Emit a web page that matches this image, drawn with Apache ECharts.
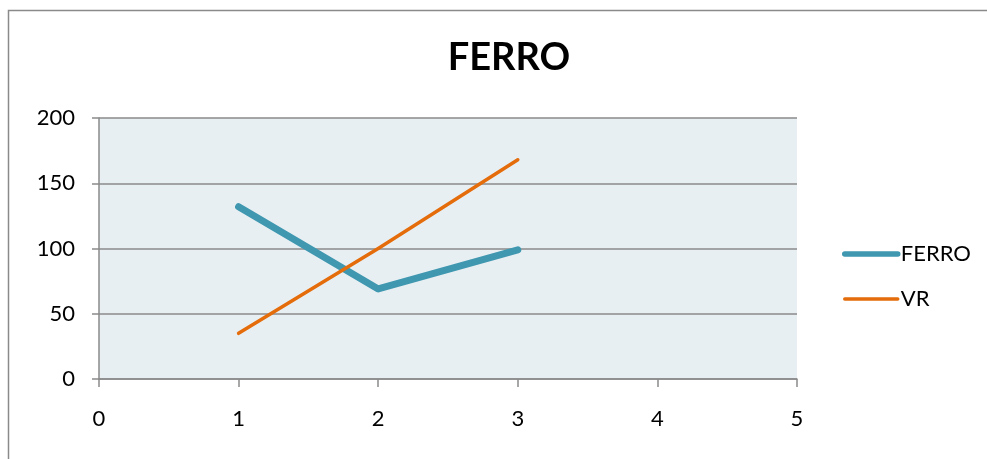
<!DOCTYPE html>
<html>
<head>
<meta charset="utf-8">
<script src="https://cdn.jsdelivr.net/npm/echarts@6/dist/echarts.min.js"></script>
<style>
  html, body { margin: 0; padding: 0; background: #ffffff; }
  #chart { width: 987px; height: 459px; }
</style>
</head>
<body>
<div id="chart"></div>
<script>
// Sample positions on the horizontal axis
const xPositions = [1, 2, 3];
// Series values
const ferroValues = [132, 69, 99];
const vrValues = [35, 100, 168];
// Axis ranges and tick labels
const xTicks = [0, 1, 2, 3, 4, 5];
const yTicks = [0, 50, 100, 150, 200];
const titleText = 'FERRO';
const seriesNames = ['FERRO', 'VR'];

const fontFamily = 'Lato, "Liberation Sans", sans-serif';
const axisGrey = '#8a8a8a';
const ferroColor = '#3f97b0';
const vrColor = '#e46c0a';

const toPairs = (xs, ys) => xs.map((x, i) => [x, ys[i]]);

const chart = echarts.init(document.getElementById('chart'), null, { renderer: 'canvas' });

chart.setOption({
  animation: false,
  backgroundColor: '#ffffff',
  title: {
    text: titleText,
    left: 504,
    top: 34,
    textAlign: 'center',
    textStyle: { fontFamily, fontSize: 38, fontWeight: 'bold', color: '#000000' }
  },
  graphic: [{
    type: 'rect',
    silent: true,
    shape: { x: 8.5, y: 10.5, width: 1100, height: 600 },
    style: { fill: 'none', stroke: axisGrey, lineWidth: 1.5 }
  }],
  legend: {
    orient: 'vertical',
    left: 837,
    top: 238,
    itemWidth: 53,
    itemHeight: 16,
    itemGap: 23,
    itemStyle: { opacity: 0 },
    textStyle: { fontFamily, fontSize: 22, color: '#000000', padding: [0, 0, 0, -2] },
    data: [
      { name: seriesNames[0], lineStyle: { width: 5.5, color: ferroColor, cap: 'round' } },
      { name: seriesNames[1], lineStyle: { width: 3.5, color: vrColor, cap: 'round' } }
    ]
  },
  grid: {
    left: 99,
    right: 190,
    top: 118,
    bottom: 80,
    show: true,
    backgroundColor: '#e8eff3',
    borderWidth: 0
  },
  xAxis: {
    type: 'value',
    min: xTicks[0],
    max: xTicks[xTicks.length - 1],
    interval: 1,
    axisLine: { show: true, lineStyle: { color: axisGrey, width: 1.5 } },
    axisTick: { show: true, length: 8, lineStyle: { color: axisGrey, width: 1.5 } },
    splitLine: { show: false },
    axisLabel: { margin: 29, fontFamily, fontSize: 22, color: '#000000' }
  },
  yAxis: {
    type: 'value',
    min: yTicks[0],
    max: yTicks[yTicks.length - 1],
    interval: 50,
    axisLine: { show: true, lineStyle: { color: axisGrey, width: 1.5 } },
    axisTick: { show: true, length: 7, lineStyle: { color: axisGrey, width: 1.5 } },
    splitLine: { show: true, lineStyle: { color: axisGrey, width: 1.5 } },
    axisLabel: { margin: 24, fontFamily, fontSize: 22, color: '#000000' }
  },
  series: [
    {
      name: seriesNames[0],
      type: 'line',
      data: toPairs(xPositions, ferroValues),
      showSymbol: false,
      symbol: 'none',
      lineStyle: { width: 7, color: ferroColor, cap: 'round', join: 'round' },
      itemStyle: { color: ferroColor }
    },
    {
      name: seriesNames[1],
      type: 'line',
      data: toPairs(xPositions, vrValues),
      showSymbol: false,
      symbol: 'none',
      lineStyle: { width: 3.5, color: vrColor, cap: 'round', join: 'round' },
      itemStyle: { color: vrColor }
    }
  ]
});
</script>
</body>
</html>
